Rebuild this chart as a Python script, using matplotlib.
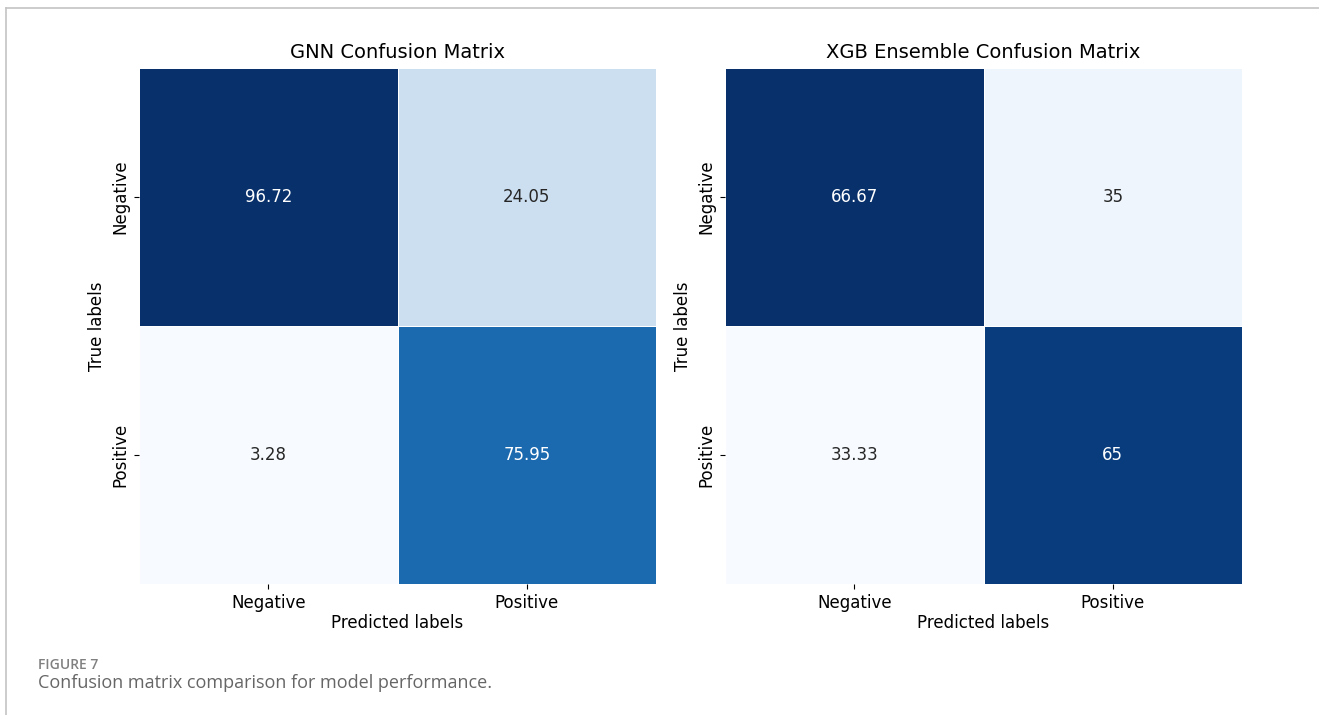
import matplotlib
matplotlib.use("Agg")
import matplotlib.pyplot as plt
import numpy as np
import seaborn as sns

labels = ["Negative", "Positive"]
gnn_values = [[96.72, 24.05],
              [3.28, 75.95]]
xgb_values = [[66.67, 35],
              [33.33, 65]]
titles = ["GNN Confusion Matrix", "XGB Ensemble Confusion Matrix"]

plt.rcParams["font.family"] = ["DejaVu Sans"]

W, H = 1319, 715
fig = plt.figure(figsize=(W / 100, H / 100), dpi=100)

def box(l, t, r, b):
    return [l / W, 1 - b / H, (r - l) / W, (b - t) / H]

axes = [fig.add_axes(box(139, 68, 656, 584)), fig.add_axes(box(725, 68, 1242, 584))]

for ax, vals, title in zip(axes, [gnn_values, xgb_values], titles):
    sns.heatmap(np.array(vals), annot=True, fmt="g", cmap="Blues", cbar=False,
                linewidths=0.6, linecolor="white", xticklabels=labels,
                yticklabels=labels, ax=ax, annot_kws={"fontsize": 12})
    ax.set_title(title, fontsize=14, pad=7)
    ax.set_xlabel("Predicted labels", fontsize=12, labelpad=2)
    ax.set_ylabel("True labels", fontsize=12)
    ax.tick_params(labelsize=12)
    plt.setp(ax.get_yticklabels(), rotation=90, va="center")

# card border
fig.add_artist(plt.Line2D([6 / W, 1], [1 - 8 / H, 1 - 8 / H], color="#c4c4c4", lw=1.2))
fig.add_artist(plt.Line2D([6 / W, 6 / W], [1 - 8 / H, 0], color="#c4c4c4", lw=1.2))

fig.text(38 / W, 1 - 669 / H, "FIGURE 7", fontsize=10, color="#808080",
         family="Open Sans", weight="semibold", va="baseline")
fig.text(38 / W, 1 - 688 / H, "Confusion matrix comparison for model performance.",
         fontsize=13, color="#666666", family="Open Sans", va="baseline")

fig.savefig("out.png", dpi=100)
